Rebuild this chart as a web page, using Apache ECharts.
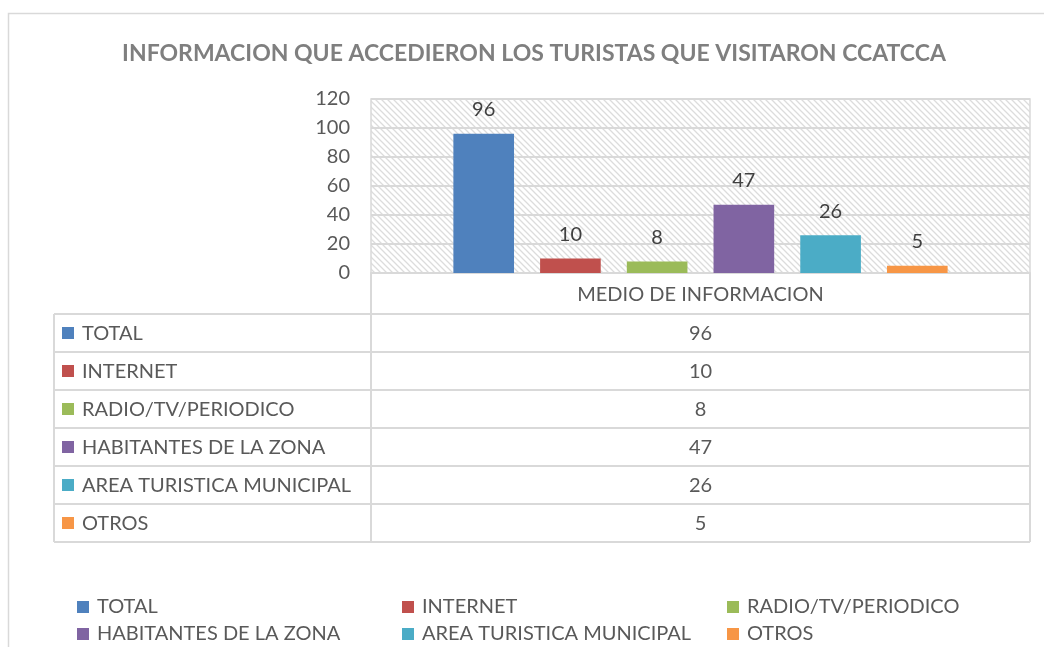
<!DOCTYPE html>
<html>
<head>
<meta charset="utf-8">
<script src="https://cdn.jsdelivr.net/npm/echarts@6/dist/echarts.min.js"></script>
<style>
  html, body { margin: 0; padding: 0; background: #fff; }
  #chart { width: 1044px; height: 647px; }
</style>
</head>
<body>
<div id="chart"></div>
<script>
    // Chart data
    var categories = ['MEDIO DE INFORMACION'];
    var seriesNames = ['TOTAL', 'INTERNET', 'RADIO/TV/PERIODICO', 'HABITANTES DE LA ZONA', 'AREA TURISTICA MUNICIPAL', 'OTROS'];
    var seriesValues = [96, 10, 8, 47, 26, 5];
    var yTicks = [0, 20, 40, 60, 80, 100, 120];

    var colors = ['#4f81bd', '#c0504d', '#9bbb59', '#8064a2', '#4bacc6', '#f79646'];
    var FONT = 'Lato, "Noto Sans", sans-serif';
    var GRAY = '#595959';
    var LINE = '#d9d9d9';

    // layout of plot area and data table
    var plotLeft = 371, plotRight = 1030, plotTop = 99, plotBottom = 273;
    var tableLeft = 54, headerBottom = 314, rowH = 38;

    // hatched background for the plot area
    function makeHatch() {
        var c = document.createElement('canvas');
        c.width = 6; c.height = 6;
        var ctx = c.getContext('2d');
        ctx.fillStyle = '#ffffff';
        ctx.fillRect(0, 0, 6, 6);
        ctx.strokeStyle = '#dcdcdc';
        ctx.lineWidth = 1.3;
        ctx.beginPath();
        ctx.moveTo(-1, -1); ctx.lineTo(7, 7);
        ctx.moveTo(-7, -1); ctx.lineTo(1, 7);
        ctx.moveTo(5, -1); ctx.lineTo(13, 7);
        ctx.stroke();
        return c;
    }

    var chart = echarts.init(document.getElementById('chart'));

    // data table drawn below the axis
    var graphics = [];
    // outer chart border
    graphics.push({
        type: 'rect', silent: true,
        shape: { x: 8.5, y: 13.5, width: 1100, height: 700 },
        style: { fill: 'none', stroke: LINE, lineWidth: 1.5 }
    });
    var tableBottom = headerBottom + rowH * seriesNames.length;
    graphics.push({
        type: 'polyline', silent: true,
        shape: { points: [[plotLeft, plotBottom], [plotLeft, tableBottom]] },
        style: { stroke: LINE, lineWidth: 2 }
    });
    graphics.push({
        type: 'polyline', silent: true,
        shape: { points: [[plotRight, plotBottom], [plotRight, tableBottom]] },
        style: { stroke: LINE, lineWidth: 2 }
    });
    graphics.push({
        type: 'polyline', silent: true,
        shape: { points: [[tableLeft, headerBottom], [tableLeft, tableBottom]] },
        style: { stroke: LINE, lineWidth: 2 }
    });
    for (var i = 0; i <= seriesNames.length; i++) {
        var y = headerBottom + rowH * i;
        graphics.push({
            type: 'polyline', silent: true,
            shape: { points: [[tableLeft, y], [plotRight, y]] },
            style: { stroke: LINE, lineWidth: 2 }
        });
    }
    seriesNames.forEach(function (name, i) {
        var cy = headerBottom + rowH * i + rowH / 2;
        graphics.push({
            type: 'rect', silent: true,
            shape: { x: 62, y: cy - 6, width: 12, height: 12 },
            style: { fill: colors[i] }
        });
        graphics.push({
            type: 'text', silent: true, x: 82, y: cy + 1,
            style: { text: name, fill: GRAY, font: '20px ' + FONT, verticalAlign: 'middle' }
        });
        graphics.push({
            type: 'text', silent: true, x: (plotLeft + plotRight) / 2, y: cy + 1,
            style: { text: String(seriesValues[i]), fill: GRAY, font: '20px ' + FONT, align: 'center', verticalAlign: 'middle' }
        });
    });

    var series = seriesNames.map(function (name, i) {
        return {
            name: name,
            type: 'bar',
            data: [seriesValues[i]],
            barGap: '43%',
            barCategoryGap: '25%',
            itemStyle: { color: colors[i] },
            label: {
                show: true,
                position: 'top',
                distance: 14,
                color: '#404040',
                fontFamily: FONT,
                fontSize: 20
            }
        };
    });

    var options = {
        animation: false,
        title: {
            text: 'INFORMACION QUE ACCEDIERON LOS TURISTAS QUE VISITARON CCATCCA',
            left: 529,
            textAlign: 'center',
            top: 37,
            textStyle: { color: '#7f7f7f', fontFamily: FONT, fontSize: 23, fontWeight: 'bold' }
        },
        legend: {
            data: seriesNames,
            left: 77,
            top: 596,
            width: 1000,
            icon: 'rect',
            itemWidth: 12,
            itemHeight: 12,
            itemGap: 5,
            padding: 0,
            textStyle: { color: GRAY, fontFamily: FONT, fontSize: 20, width: 300, lineHeight: 22, padding: [0, 0, 0, 3] }
        },
        grid: {
            left: plotLeft,
            right: 1044 - plotRight,
            top: plotTop,
            bottom: 647 - plotBottom,
            show: true,
            backgroundColor: { image: makeHatch(), repeat: 'repeat' },
            borderColor: LINE,
            borderWidth: 1.5
        },
        xAxis: {
            type: 'category',
            data: categories,
            axisTick: { show: false },
            axisLine: { lineStyle: { color: LINE, width: 2 } },
            axisLabel: { color: GRAY, fontFamily: FONT, fontSize: 20, margin: 12 }
        },
        yAxis: {
            type: 'value',
            min: yTicks[0],
            max: yTicks[yTicks.length - 1],
            interval: yTicks[1] - yTicks[0],
            axisLine: { show: false },
            axisTick: { show: false },
            splitLine: { lineStyle: { color: LINE, width: 2 } },
            axisLabel: { color: GRAY, fontFamily: FONT, fontSize: 20, margin: 21 }
        },
        graphic: graphics,
        series: series
    };

    chart.setOption(options);
</script>
</body>
</html>
